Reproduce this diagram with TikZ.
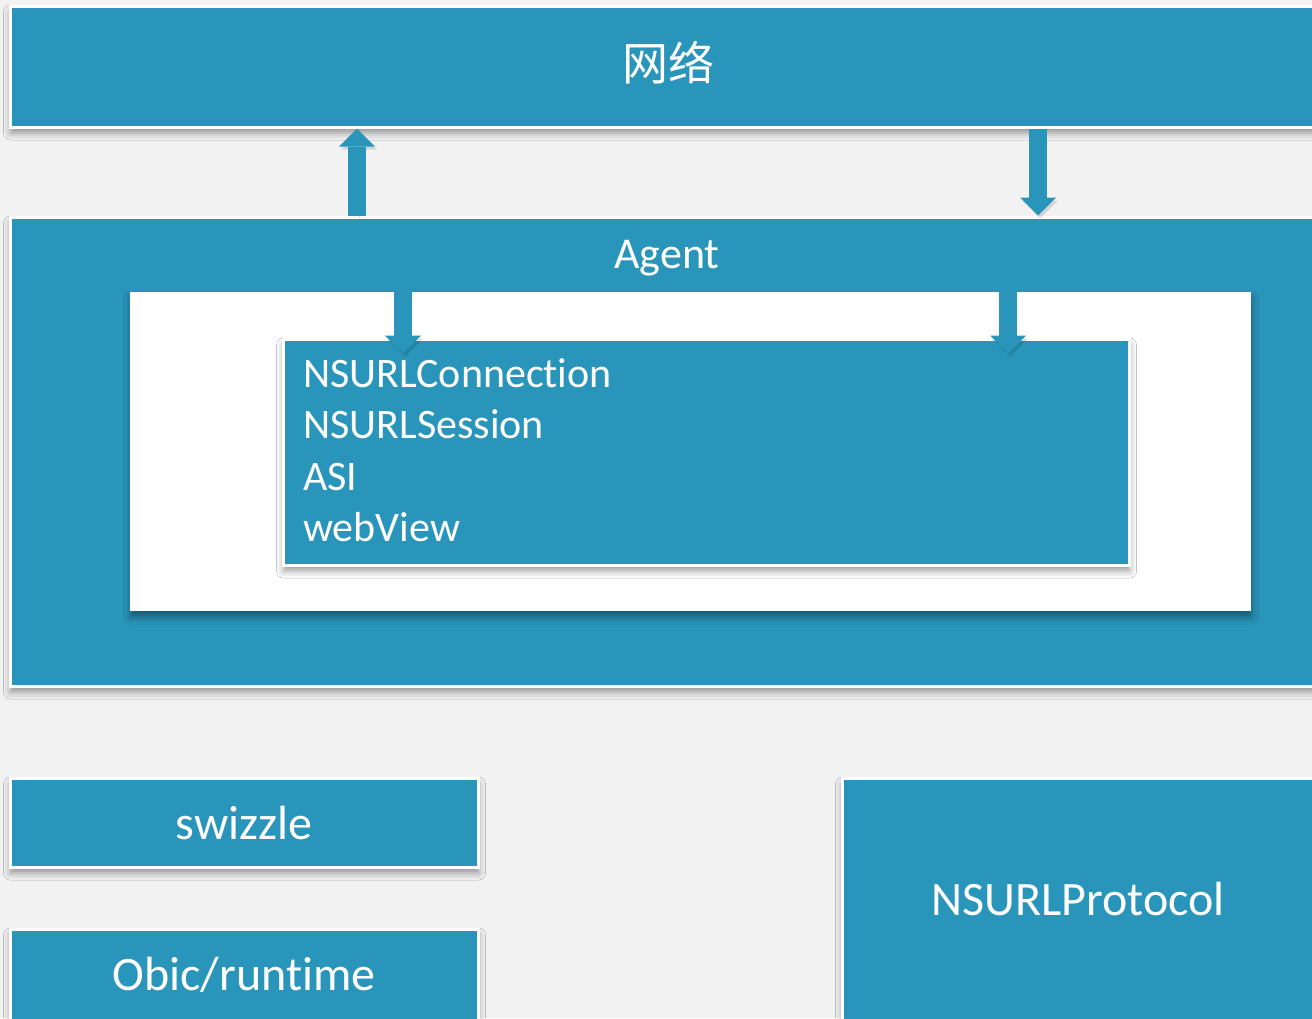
\documentclass[tikz,border=0pt]{standalone}
\usepackage{fontspec}
\setmainfont{Carlito}[Ligatures=NoCommon]
\newfontfamily\cjk{Noto Sans CJK SC}
\usetikzlibrary{arrows.meta, shadows.blur}

\definecolor{boxblue}{RGB}{41,149,186}
\definecolor{slidegray}{RGB}{242,242,242}

\begin{document}
\begin{tikzpicture}[
    x=1pt, y=-1pt,
    shade/.style = {blur shadow={shadow xshift=0.5pt, shadow yshift=-6pt,
        shadow blur radius=7pt, shadow opacity=40}},
    block/.style = {shade, fill=boxblue, draw=white, line width=3pt, text=white,
        inner sep=0pt, font=\fontsize{48}{56}\selectfont},
    panel/.style = {shade, fill=white, inner sep=0pt},
    label/.style = {text=white, inner sep=0pt},
    arrow/.style = {boxblue, line width=18pt,
        -{Triangle[width=36pt, length=18pt, line width=0pt]},
        preaction={draw=black, opacity=0.12,
          transform canvas={shift={(2pt,-3pt)}}}}
  ]

  \useasboundingbox (0,0) rectangle (1312,1018);
  \fill[slidegray] (0,0) rectangle (1312,1018);
  \clip (0,0) rectangle (1312,1018);

  % Network bar on top
  \node[block, minimum width=1316pt, minimum height=121pt] (net) at (668,66.5) {};
  \node[label, font=\cjk\fontsize{46}{56}\selectfont] (nettitle) at (668,63) {网络};

  % Agent frame with the white panel inside
  \node[block, minimum width=1316pt, minimum height=469pt] (agent) at (668,451.5) {};
  \node[label, anchor=base, font=\fontsize{44}{52}\selectfont] (agenttitle) at (667,268) {Agent};
  \node[panel, minimum width=1121pt, minimum height=319pt] (panel) at (690.5,451.5) {};

  % Request APIs
  \node[block, minimum width=846pt, minimum height=226pt] (apis) at (706,452) {};
  \node[label, anchor=base west, align=left, font=\fontsize{42}{51.5}\selectfont]
    (apilist) at (303,541.5) {NSURLConnection\\NSURLSession\\ASI\\webView};

  % Arrows between network and agent
  \draw[arrow] ([xshift=-311pt]agent.north) -- ([xshift=-311pt]net.south);
  \draw[arrow] ([xshift=370pt]net.south) -- ([xshift=370pt]agent.north);

  % Arrows from agent into the APIs
  \draw[arrow] ([xshift=-287.5pt, yshift=14pt]panel.north) -- ([xshift=-303pt, yshift=-16pt]apis.north);
  \draw[arrow] ([xshift=317.5pt, yshift=14pt]panel.north) -- ([xshift=302pt, yshift=-16pt]apis.north);

  % Bottom blocks
  \node[block, minimum width=468pt, minimum height=89pt] (swizzle) at (244,822.5) {swizzle};
  \node[block, minimum width=468pt, minimum height=92pt] (runtime) at (244,975) {Obic/runtime};
  \node[block, minimum width=472pt, minimum height=242pt] (protocol) at (1078,899) {NSURLProtocol};

\end{tikzpicture}
\end{document}
